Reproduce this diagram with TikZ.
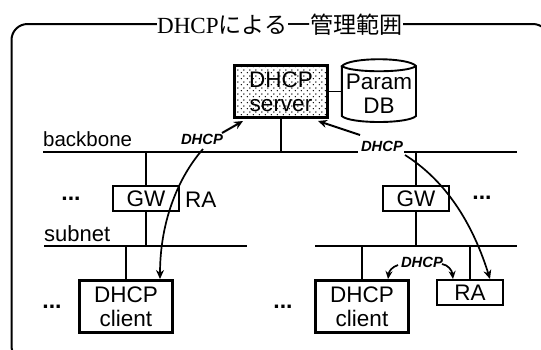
\documentclass[tikz,border=0pt]{standalone}
\usepackage{fontspec}
\setmainfont{Liberation Sans}
\newfontfamily\titleserif{Liberation Serif}
\newfontfamily\titlecjk{Noto Sans CJK JP}
\usetikzlibrary{arrows.meta,patterns}
\pgfdeclarepatternformonly{scandots}{\pgfqpoint{0pt}{0pt}}{\pgfqpoint{6pt}{6pt}}{\pgfqpoint{6pt}{6pt}}{%
  \pgfpathcircle{\pgfqpoint{1.5pt}{1.5pt}}{0.85pt}%
  \pgfpathcircle{\pgfqpoint{4.5pt}{4.5pt}}{0.85pt}%
  \pgfusepath{fill}}
\tikzset{
  lbl/.style={font=\fontsize{22.5}{24}\selectfont,align=center,inner sep=0pt},
  boxgw/.style={draw,line width=1.9pt,minimum width=66pt,minimum height=25pt,inner sep=0pt,font=\fontsize{22.5}{24}\selectfont},
  boxhost/.style={draw,line width=3.2pt,minimum width=93pt,minimum height=52pt,inner sep=0pt,align=center,font=\fontsize{22.5}{24}\selectfont},
  net/.style={line width=2pt},
  stem/.style={line width=1.9pt},
  msg/.style={line width=1.7pt,-{Stealth[length=9pt,width=8pt]}},
  tag/.style={font=\fontsize{14.8}{16}\selectfont\bfseries\itshape,inner sep=0pt},
  ellipsis/.style={anchor=base,inner sep=0pt,font=\fontsize{23}{24}\selectfont\bfseries},
}
\begin{document}
\begin{tikzpicture}[x=1pt,y=-1pt]
\useasboundingbox (0,0) rectangle (541,349);
\clip (0,0) rectangle (541,349);
\draw[line width=2pt,rounded corners=16pt] (11.5,24) rectangle (549,362);
\node[fill=white,inner sep=0pt,minimum height=24pt] (title) at (280,25) {\fontsize{23.1}{24}\selectfont\titleserif DHCP\titlecjk による一管理範囲};

\coordinate (bbL) at (43,152);
\coordinate (bbG1) at (358,152);
\coordinate (bbG2) at (404,152);
\coordinate (bbR) at (517,152);
\coordinate (snAL) at (44,246);
\coordinate (snAR) at (247,246);
\coordinate (snBL) at (315,246);
\coordinate (snBR) at (517,246);

\node[boxhost,line width=3.6pt,pattern=scandots] (server) at (281,91.5) {};
\node[lbl] (servertxt) at (281,91.5) {DHCP\\server};
\node[inner sep=0pt,minimum width=74pt,minimum height=62pt] (db) at (379,91) {};
\draw[line width=1.9pt] (db.west) ++(0,-25) -- ++(0,50)
  .. controls +(8,8) and (408,124) .. (416,116) -- (416,66)
  .. controls (408,57) and (350,57) .. (342,66)
  .. controls (350,73) and (408,73) .. (416,66);
\node[lbl] (dbtxt) at (379,94) {Param\\DB};
\node[boxgw] (gwl) at (146,198.5) {GW};
\node[boxgw] (gwr) at (416,198.5) {GW};
\node[boxhost] (cl) at (126,306.5) {DHCP\\client};
\node[boxhost] (cr) at (362,306.5) {DHCP\\client};
\node[boxgw] (ra) at (470,292.5) {RA};

\draw[net] (bbL) -- (bbG1);
\draw[net] (bbG2) -- (bbR);
\draw[net] (snAL) -- (snAR);
\draw[net] (snBL) -- (snBR);

\draw[stem] (server.east) -- (server.east -| db.west);
\draw[stem] (server.south) -- (server.south |- bbL);
\draw[stem] (gwl.north) -- (gwl.north |- bbL);
\draw[stem] (gwl.south) -- (gwl.south |- snAL);
\draw[stem] (cl.north) -- (cl.north |- snAL);
\draw[stem] (gwr.north) -- (gwr.north |- bbL);
\draw[stem] (gwr.south) -- (gwr.south |- snBL);
\draw[stem] (cr.north) -- (cr.north |- snBL);
\draw[stem] (ra.north) -- (ra.north |- snBL);

\node[anchor=base west,inner sep=0pt,font=\fontsize{20.5}{22}\selectfont] (bbtxt) at (43,146) {backbone};
\node[anchor=base west,inner sep=0pt,font=\fontsize{22}{24}\selectfont] (sntxt) at (44,241) {subnet};
\node[anchor=base west,inner sep=0pt,font=\fontsize{22.5}{24}\selectfont] (ratxt) at (185,207) {RA};
\node[ellipsis] (d1) at (71,200) {...};
\node[ellipsis] (d2) at (52,308) {...};
\node[ellipsis] (d3) at (283,308) {...};
\node[ellipsis] (d4) at (482,199) {...};

\node[tag] (t1) at (202,139.5) {DHCP};
\node[tag] (t2) at (382,146) {DHCP};
\node[tag] (t3) at (422,262) {DHCP};

\coordinate (a1s) at (222,133);
\coordinate (a1e) at (243,121);
\coordinate (a2s) at (203,149);
\coordinate (a2e) at (160,279);
\coordinate (a3s) at (360,135);
\coordinate (a3e) at (318,121);
\coordinate (a4s) at (405,155);
\coordinate (a4e) at (490,279);
\coordinate (a5s) at (398,265);
\coordinate (a5e) at (388,279);
\coordinate (a6s) at (442,264);
\coordinate (a6e) at (453,279);

\draw[msg,line width=2pt] (a1s) -- (a1e);
\draw[msg] (a2s) .. controls (176,180) and (160,225) .. (a2e);
\draw[msg,line width=2pt] (a3s) -- (a3e);
\draw[msg] (a4s) .. controls (440,177) and (470,215) .. (a4e);
\draw[msg,-{Stealth[length=8pt,width=7pt]}] (a5s) .. controls (392,267) and (389,271) .. (a5e);
\draw[msg,-{Stealth[length=8pt,width=7pt]}] (a6s) .. controls (448,265) and (452,270) .. (a6e);
\end{tikzpicture}
\end{document}
